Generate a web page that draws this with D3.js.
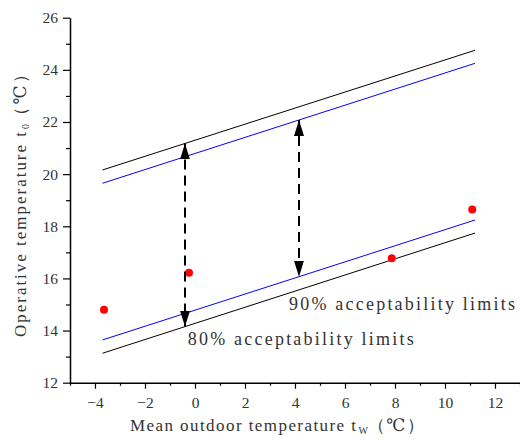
<!DOCTYPE html>
<html>
<head>
<meta charset="utf-8">
<script src="https://cdn.jsdelivr.net/npm/d3@7"></script>
<style>
	body { margin: 0; background: #fff; }
	svg { display: block; }
</style>
</head>
<body>
<svg></svg>
<script>
// data
const lineX = [ -3.7, 11.2 ] // start and end of the limit lines
const upper80 = [ 20.16, 24.75 ]
const upper90 = [ 19.65, 24.25 ]
const lower90 = [ 13.64, 18.24 ]
const lower80 = [ 13.13, 17.74 ]
const pointX = [ -3.64, -0.24, 7.87, 11.09 ]
const pointY = [ 14.80, 16.22, 16.77, 18.64 ]
const arrowX = [ -0.4, 4.16 ] // first arrow spans the 80% band, second the 90% band
const xTicks = [ -4, -2, 0, 2, 4, 6, 8, 10, 12 ]
const xMinor = [ -5, -3, -1, 1, 3, 5, 7, 9, 11, 13 ]
const yTicks = [ 12, 14, 16, 18, 20, 22, 24, 26 ]
const yMinor = [ 13, 15, 17, 19, 21, 23, 25 ]

const WIDTH = 520,
	HEIGHT = 444,
	svg = d3.select( 'svg' ).attr( 'width', WIDTH ).attr( 'height', HEIGHT ),
	serif = '"Liberation Serif", "DejaVu Serif", serif',
	textCol = '#333'

const x = d3.scaleLinear().domain( [ -5, 13 ] ).range( [ 70, 520 ] ),
	y = d3.scaleLinear().domain( [ 12, 26 ] ).range( [ 382.7, 17.7 ] )

// value of a limit line at some x
const lineAt = ( ys, v ) => ys[0] + ( ys[1] - ys[0] ) * ( v - lineX[0] ) / ( lineX[1] - lineX[0] )

// arrowheads, one for each end
const defs = svg.append( 'defs' )
const marker = ( id, ref, d ) => defs.append( 'marker' )
	.attr( 'id', id )
	.attr( 'viewBox', '0 0 16 10' )
	.attr( 'refX', ref ).attr( 'refY', 5 )
	.attr( 'markerWidth', 16 ).attr( 'markerHeight', 10 )
	.attr( 'markerUnits', 'userSpaceOnUse' )
	.attr( 'orient', 'auto' )
	.append( 'path' )
	.attr( 'd', d )
	.attr( 'fill', '#000' )
marker( 'headEnd', 16, 'M0,0 L16,5 L0,10 Z' )
marker( 'headStart', 0, 'M16,0 L0,5 L16,10 Z' )

// limit lines
const line = d3.line().x( d => x( d[0] ) ).y( d => y( d[1] ) )
const limits = [
	{ ys: upper80, col: '#000' },
	{ ys: upper90, col: '#0000ff' },
	{ ys: lower90, col: '#0000ff' },
	{ ys: lower80, col: '#000' }
]
svg.append( 'g' ).selectAll( 'path' )
	.data( limits )
	.join( 'path' )
	.attr( 'fill', 'none' )
	.attr( 'stroke', d => d.col )
	.attr( 'stroke-width', 1 )
	.attr( 'd', d => line( lineX.map( ( v, i ) => [ v, d.ys[i] ] ) ) )

// points
svg.append( 'g' ).selectAll( 'circle' )
	.data( pointX.map( ( v, i ) => [ v, pointY[i] ] ) )
	.join( 'circle' )
	.attr( 'cx', d => x( d[0] ) )
	.attr( 'cy', d => y( d[1] ) )
	.attr( 'r', 4 )
	.attr( 'fill', '#ff0000' )

// dashed double arrows
const arrows = [
	{ x: arrowX[0], top: lineAt( upper80, arrowX[0] ), bot: lineAt( lower80, arrowX[0] ) },
	{ x: arrowX[1], top: lineAt( upper90, arrowX[1] ), bot: lineAt( lower90, arrowX[1] ) }
]
svg.append( 'g' ).selectAll( 'line' )
	.data( arrows )
	.join( 'line' )
	.attr( 'x1', d => x( d.x ) ).attr( 'x2', d => x( d.x ) )
	.attr( 'y1', d => y( d.top ) ).attr( 'y2', d => y( d.bot ) )
	.attr( 'stroke', '#000' )
	.attr( 'stroke-width', 2 )
	.attr( 'stroke-dasharray', '10,6' )
	.attr( 'marker-start', 'url(#headStart)' )
	.attr( 'marker-end', 'url(#headEnd)' )

// band labels
const bandLabels = [
	{ x: 3.76, y: 14.79, t: '90% acceptability limits' },
	{ x: -0.29, y: 13.45, t: '80% acceptability limits' }
]
svg.append( 'g' ).selectAll( 'text' )
	.data( bandLabels )
	.join( 'text' )
	.attr( 'x', d => x( d.x ) )
	.attr( 'y', d => y( d.y ) )
	.attr( 'font-family', serif )
	.attr( 'font-size', 18 )
	.attr( 'fill', textCol )
	.attr( 'textLength', 226 )
	.attr( 'lengthAdjust', 'spacing' )
	.text( d => d.t )

// axes
svg.append( 'g' )
	.attr( 'transform', `translate( 0, ${y( 12 )} )` )
	.call( d3.axisBottom( x ).tickValues( xTicks ).tickSize( 6 ).tickSizeOuter( 0 ).tickPadding( 8 ) )
svg.append( 'g' )
	.attr( 'transform', `translate( 0, ${y( 12 )} )` )
	.call( d3.axisBottom( x ).tickValues( xMinor ).tickSize( 3 ).tickSizeOuter( 0 ).tickFormat( '' ) )
	.select( '.domain' ).remove()

svg.append( 'g' )
	.attr( 'transform', `translate( ${x( -5 )}, 0 )` )
	.call( d3.axisLeft( y ).tickValues( yTicks ).tickSize( 7 ).tickSizeOuter( 0 ).tickPadding( 5 ) )
svg.append( 'g' )
	.attr( 'transform', `translate( ${x( -5 )}, 0 )` )
	.call( d3.axisLeft( y ).tickValues( yMinor ).tickSize( 4 ).tickSizeOuter( 0 ).tickFormat( '' ) )
	.select( '.domain' ).remove()

svg.selectAll( '.domain' ).attr( 'stroke-width', 1.5 )
svg.selectAll( '.tick line' ).attr( 'stroke-width', 1.2 )
svg.selectAll( '.tick text' )
	.attr( 'font-family', serif )
	.attr( 'font-size', 15.5 )
	.attr( 'fill', textCol )

// axis titles
const xTitle = svg.append( 'text' )
	.attr( 'x', 130 )
	.attr( 'y', 431 )
	.attr( 'font-family', serif )
	.attr( 'font-size', 17 )
	.attr( 'fill', textCol )
xTitle.append( 'tspan' ).attr( 'textLength', 226 ).attr( 'lengthAdjust', 'spacing' ).text( 'Mean outdoor temperature t' )
xTitle.append( 'tspan' ).attr( 'font-size', 10 ).attr( 'dy', 3 ).attr( 'dx', 1 ).text( 'W' )
xTitle.append( 'tspan' ).attr( 'dy', -3 ).attr( 'textLength', 56 ).attr( 'lengthAdjust', 'spacing' ).text( '（℃）' )

const yTitle = svg.append( 'text' )
	.attr( 'transform', 'translate( 26, 337 ) rotate( -90 )' )
	.attr( 'font-family', serif )
	.attr( 'font-size', 17 )
	.attr( 'fill', textCol )
yTitle.append( 'tspan' ).attr( 'textLength', 205 ).attr( 'lengthAdjust', 'spacing' ).text( 'Operative temperature t' )
yTitle.append( 'tspan' ).attr( 'font-size', 10 ).attr( 'dy', 3 ).attr( 'dx', 1 ).text( '0' )
yTitle.append( 'tspan' ).attr( 'dy', -3 ).attr( 'textLength', 58 ).attr( 'lengthAdjust', 'spacing' ).text( '（℃）' )
</script>
</body>
</html>
